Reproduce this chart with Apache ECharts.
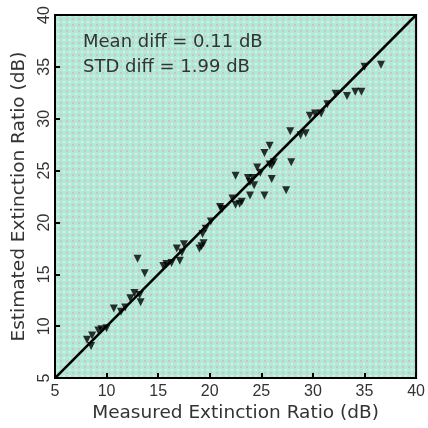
<!DOCTYPE html>
<html>
<head>
<meta charset="utf-8">
<script src="https://cdn.jsdelivr.net/npm/echarts@6/dist/echarts.min.js"></script>
<style>html,body{margin:0;padding:0;background:#fff}#c{width:428px;height:428px}</style>
</head>
<body>
<div id="c"></div>
<script>
// Measured (x) vs Estimated (y) extinction ratio, dB
const measured = [8.1,8.5,8.6,9.2,9.5,10.0,10.7,11.4,11.8,12.3,12.7,13.2,13.3,13.0,13.7,15.5,15.8,16.3,17.1,17.3,16.8,17.5,19.0,19.4,19.3,19.6,20.1,19.2,21.0,21.2,22.2,22.5,22.5,22.9,23.1,23.7,23.9,24.3,23.9,25.3,24.6,25.3,25.8,25.8,26.0,26.2,26.0,27.4,27.9,27.8,28.8,29.3,29.7,30.2,30.8,32.2,33.3,34.1,34.7,35.0,36.6,24.2,24.9,31.4];
const estimated = [8.7,8.1,9.1,9.6,9.7,9.8,11.7,11.4,11.8,12.7,13.2,13.0,12.3,16.5,15.1,15.8,16.0,16.1,16.3,17.1,17.5,17.9,17.5,18.0,18.9,19.4,20.1,17.7,21.5,21.3,22.3,21.7,24.5,21.8,22.0,24.3,23.9,23.6,22.6,22.6,25.3,26.7,27.4,25.6,25.5,25.8,24.2,23.1,25.8,28.8,28.4,28.6,30.3,30.5,30.5,32.4,32.2,32.6,32.6,35.0,35.2,24.3,24.8,31.4];
const identityLine = [5, 40];
const axisTicks = [5, 10, 15, 20, 25, 30, 35, 40];
const statsText = ['Mean diff = 0.11 dB', 'STD diff = 1.99 dB'];

const points = measured.map((x, i) => [x, estimated[i]]);

// dotted mint background pattern
const tile = document.createElement('canvas');
tile.width = 6; tile.height = 6;
const g = tile.getContext('2d');
g.fillStyle = '#b3e9d3'; g.fillRect(0, 0, 6, 6);
g.fillStyle = '#cac2cc'; g.fillRect(0, 0, 2, 2);
g.fillStyle = '#c9f1f6'; g.fillRect(3, 3, 2, 2);

const chart = echarts.init(document.getElementById('c'), null, {renderer: 'canvas'});
const tickFont = {fontFamily: 'Liberation Sans, Arial, sans-serif', fontSize: 16, color: '#333'};
const nameFont = {fontFamily: 'DejaVu Sans, sans-serif', fontSize: 18.5, color: '#333'};
function axis(extra) {
  return Object.assign({
    type: 'value', min: axisTicks[0], max: axisTicks[axisTicks.length - 1], interval: 5,
    nameLocation: 'middle',
    nameTextStyle: nameFont,
    axisLine: {show: true, lineStyle: {color: '#000', width: 2}},
    axisTick: {show: true, inside: true, length: 5, lineStyle: {color: '#000', width: 2}},
    splitLine: {show: false},
    axisLabel: Object.assign({margin: 5}, tickFont)
  }, extra);
}
chart.setOption({
  animation: false,
  backgroundColor: '#fff',
  grid: {left: 55, right: 10, top: 15, bottom: 48, show: true,
         backgroundColor: {image: tile, repeat: 'repeat'},
         borderColor: '#000', borderWidth: 2},
  xAxis: axis({name: 'Measured Extinction Ratio (dB)', nameGap: 24}),
  yAxis: axis({name: 'Estimated Extinction Ratio (dB)', nameGap: 26,
    axisLabel: Object.assign({margin: 2, rotate: 90}, tickFont)}),
  graphic: statsText.map((t, i) => ({
    type: 'text', left: 83, top: 33 + i * 25,
    style: {text: t, font: '18px "DejaVu Sans", sans-serif', fill: '#333'}
  })),
  series: [
    {type: 'line', data: identityLine.map(v => [v, v]), symbol: 'none',
     lineStyle: {color: '#000', width: 2.5}, z: 2},
    {type: 'scatter', data: points, symbol: 'triangle', symbolRotate: 180,
     symbolSize: 8, itemStyle: {color: '#000'}, z: 3}
  ]
});
</script>
</body>
</html>
